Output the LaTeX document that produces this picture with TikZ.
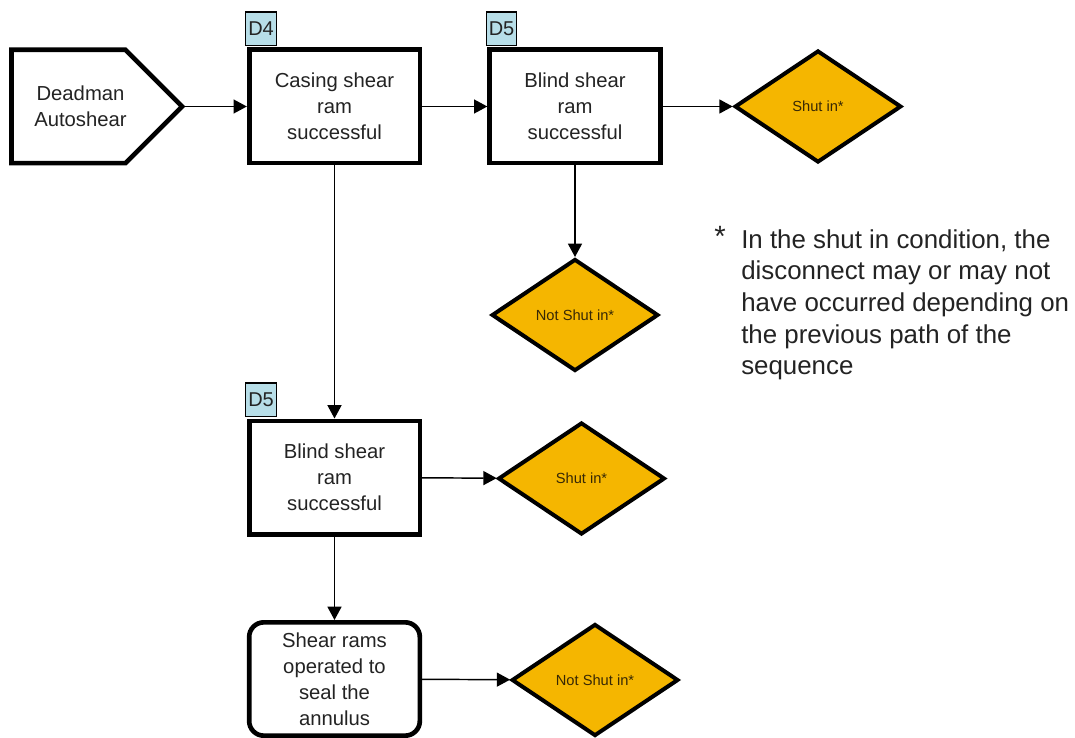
\documentclass[tikz,border=0pt]{standalone}
\usepackage{fontspec}
\setmainfont{Liberation Sans}
\usetikzlibrary{shapes.geometric,shapes.symbols,arrows.meta}
\definecolor{ink}{RGB}{35,35,35}
\definecolor{gold}{RGB}{245,182,0}
\definecolor{goldink}{RGB}{55,40,5}
\definecolor{tagblue}{RGB}{183,222,232}
\begin{document}
\begin{tikzpicture}[x=0.75pt,y=-0.75pt,
  boxfont/.style={font=\fontsize{15.2}{19.6}\selectfont},
  stepbox/.style={draw=black, line width=3.5pt, fill=white, minimum width=128pt,
    minimum height=85pt, inner sep=0pt, align=center, text=ink, boxfont},
  startbox/.style={stepbox, shape=signal, signal to=east, signal pointer angle=90},
  endbox/.style={stepbox, rounded corners=11pt},
  outcome/.style={diamond, draw=black, line width=3pt, fill=gold, minimum width=125pt,
    minimum height=84pt, inner sep=0pt, text=goldink, font=\fontsize{11}{13}\selectfont},
  tag/.style={draw=black, line width=0.9pt, fill=tagblue, minimum width=23pt,
    minimum height=25pt, inner sep=0pt, text=ink, font=\fontsize{15}{18}\selectfont,
    anchor=south west, xshift=-1.3pt, yshift=1.2pt},
  flow/.style={draw=black, line width=1.1pt, -{Triangle[length=10pt,width=10.5pt]}},
  note/.style={anchor=north west, inner sep=0pt, align=left, text=ink,
    font=\fontsize{19.4}{23.8}\selectfont}
]
\useasboundingbox (0,0) rectangle (1075,738);

% decision steps
\node[startbox, label={[name=deadtext, align=center, text=ink, boxfont, xshift=9pt]center:Deadman\\Autoshear}] (dead) at (68.5,106.5) {};
\node[stepbox] (cas) at (334.5,106.5) {Casing shear\\ram\\successful};
\node[stepbox] (blindA) at (575,106.5) {Blind shear\\ram\\successful};
\node[stepbox] (blindB) at (334.5,477.5) {Blind shear\\ram\\successful};
\node[endbox] (seal) at (334.5,679) {Shear rams\\operated to\\seal the\\annulus};

% stage tags
\node[tag] (tagD4) at (cas.north west) {D4};
\node[tag] (tagD5a) at (blindA.north west) {D5};
\node[tag] (tagD5b) at (blindB.north west) {D5};

% end states
\node[outcome] (shutA) at (818,106.5) {Shut in*};
\node[outcome] (notA) at (575,315) {Not Shut in*};
\node[outcome] (shutB) at (581.5,478.5) {Shut in*};
\node[outcome] (notB) at (595,680) {Not Shut in*};

% connectors
\draw[flow] (dead) -- (cas);
\draw[flow] (cas) -- (blindA);
\draw[flow] (blindA) -- (shutA);
\draw[flow] (blindA) -- (notA);
\draw[flow] (cas) -- (blindB);
\draw[flow] (blindB) -- (shutB);
\draw[flow] (blindB) -- (seal);
\draw[flow] (seal) -- (notB);

% footnote
\node[note, font=\fontsize{22}{24}\selectfont] (star) at (714,226) {*};
\node[note] (footnote) at (741,229) {In the shut in condition, the\\disconnect may or may not\\have occurred depending on\\the previous path of the\\sequence};
\end{tikzpicture}
\end{document}
